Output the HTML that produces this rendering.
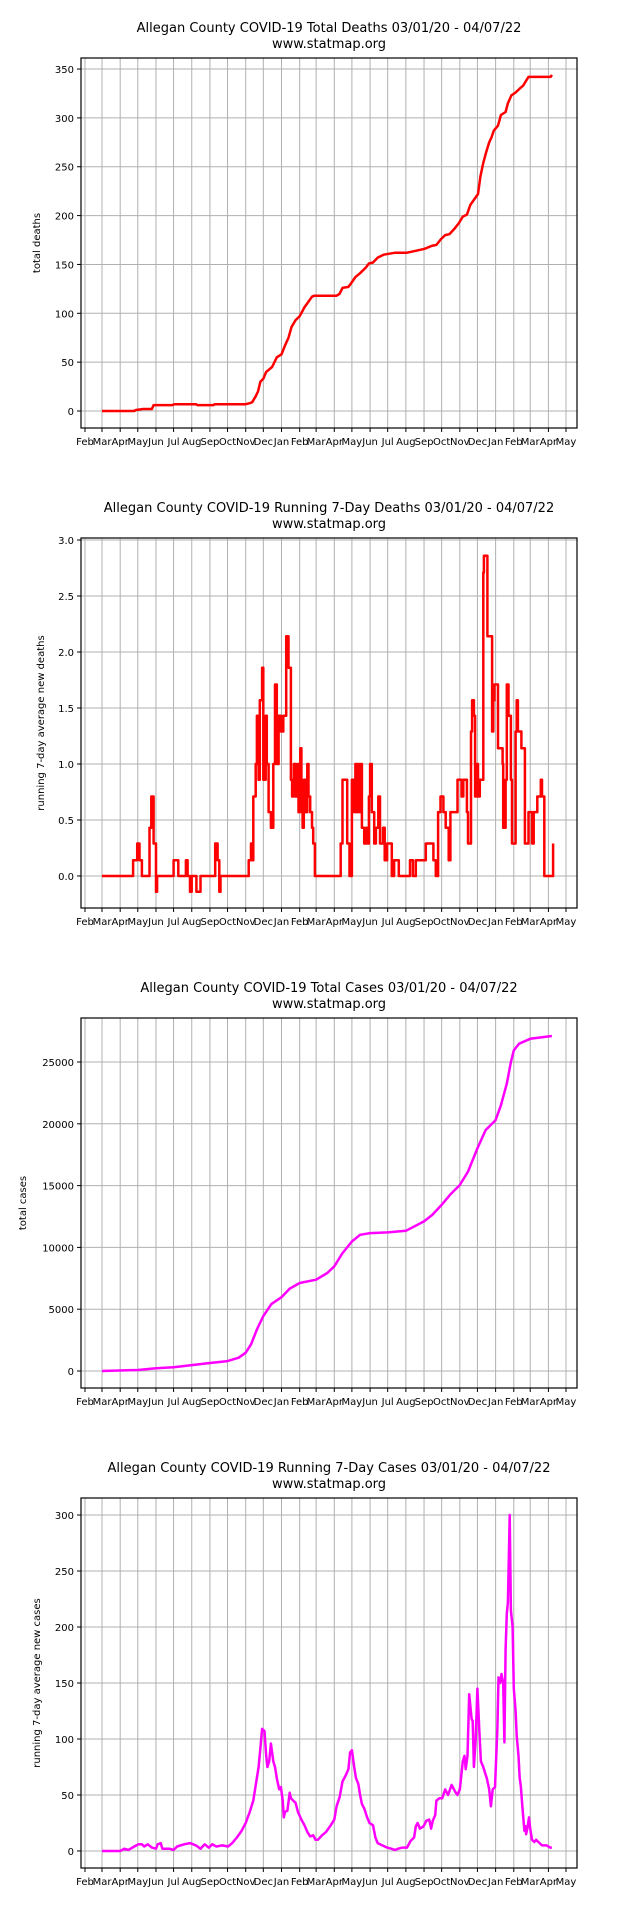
<!DOCTYPE html>
<html><head><meta charset="utf-8">
<style>
html,body{margin:0;padding:0;background:#fff;}
svg{display:block;font-family:"DejaVu Sans","Liberation Sans",sans-serif;}
</style></head>
<body>
<svg id="root" width="640" height="1920" viewBox="0 0 640 1920" xmlns="http://www.w3.org/2000/svg"></svg>
<script>
// ---- data (day offset from 03/01/20, value) ----
const monthLabels = ["Feb","Mar","Apr","May","Jun","Jul","Aug","Sep","Oct","Nov","Dec","Jan","Feb","Mar","Apr","May","Jun","Jul","Aug","Sep","Oct","Nov","Dec","Jan","Feb","Mar","Apr","May"];
const monthDays = [-29,0,31,61,92,122,153,184,214,245,275,306,337,365,396,426,457,487,518,549,579,610,640,671,702,730,761,791];

const deathsTotalDays = [0,55,58,70,85,88,120,123,160,163,190,192,245,252,256,262,266,270,275,280,290,298,306,312,318,323,330,337,345,352,358,362,400,405,410,420,425,432,440,450,455,462,470,480,490,500,520,535,550,562,570,578,585,592,600,608,615,622,628,635,641,645,650,655,660,664,668,675,680,688,692,698,705,712,718,722,727,765,767];
const deathsTotalVals = [0,0,1,2,2,6,6,7,7,6,6,7,7,8,9,15,20,30,33,40,45,55,58,67,75,86,93,97,106,112,117,118,118,120,126,127,131,137,141,147,151,152,157,160,161,162,162,164,166,169,170,176,180,181,186,192,199,201,211,217,222,240,254,265,275,280,287,292,303,306,315,323,326,330,333,337,342,342,344];

const deaths7Days = [0,52,53,60,64,68,79,81,84,88,92,94,120,122,128,130,143,146,150,153,161,168,192,193,197,200,202,247,250,254,256,258,262,264,267,269,273,275,279,281,284,288,292,295,298,301,305,309,314,318,322,324,327,330,333,335,338,340,342,344,347,350,352,355,358,360,363,
405,407,410,415,418,422,426,430,432,434,436,439,441,443,447,450,452,455,457,460,464,467,471,474,479,482,486,490,494,498,503,506,523,525,530,535,552,563,565,569,573,577,582,586,591,594,602,606,610,613,616,619,622,624,626,629,631,634,636,639,641,644,648,650,651,655,657,663,665,667,669,673,675,681,683,684,688,690,693,696,697,699,702,705,707,709,713,715,718,721,724,727,731,733,736,740,742,746,748,750,752,754,767,769];
const deaths7Vals = [0,0,0.14,0.29,0.14,0,0,0.43,0.71,0.29,-0.14,0,0,0.14,0.14,0,0.14,0,-0.14,0,-0.14,0,0,0.29,0.14,-0.14,0,0,0.14,0.29,0.14,0.71,1.0,1.43,0.86,1.57,1.86,0.86,1.43,1.0,0.57,0.43,1.0,1.71,1.0,1.43,1.29,1.43,2.14,1.86,0.86,0.71,1.0,0.71,1.0,0.57,1.14,0.71,0.43,0.86,0.57,1.0,0.71,0.57,0.43,0.29,0,
0,0.29,0.86,0.86,0.29,0,0.86,0.57,1.0,0.57,1.0,0.57,1.0,0.43,0.29,0.43,0.29,0.71,1.0,0.57,0.29,0.43,0.71,0.29,0.43,0.14,0.29,0.29,0,0.14,0.14,0,0,0.14,0,0.14,0.29,0.29,0.14,0,0.57,0.71,0.57,0.43,0.14,0.57,0.57,0.86,0.86,0.71,0.86,0.86,0.57,0.29,0.29,1.29,1.57,1.43,0.71,1.0,0.71,0.86,0.86,2.71,2.86,2.86,2.14,2.14,1.29,1.57,1.71,1.71,1.14,1.14,1.0,0.43,0.86,1.71,1.43,1.43,0.86,0.29,0.29,1.29,1.57,1.29,1.29,1.14,1.14,0.29,0.29,0.57,0.57,0.29,0.57,0.57,0.71,0.71,0.86,0.71,0.71,0,0,0.29];

const casesTotalDays = [0,61,92,122,153,184,214,233,245,254,264,275,289,306,320,337,365,384,396,410,426,440,457,487,518,549,563,579,593,610,624,640,654,671,680,690,697,702,711,730,767];
const casesTotalVals = [0,80,215,300,480,650,800,1080,1480,2150,3360,4440,5430,5970,6670,7120,7390,7930,8470,9540,10480,11020,11160,11210,11340,12100,12630,13440,14250,15050,16130,18010,19490,20300,21500,23250,25000,25940,26480,26880,27100];

const cases7Days = [0,31,38,45,55,62,68,72,78,85,92,95,100,103,115,122,128,140,150,160,168,175,182,188,195,205,215,222,230,238,245,252,258,263,267,270,273,277,280,282,285,288,290,292,295,298,302,305,308,310,312,316,320,322,326,330,334,340,346,350,355,360,364,368,375,382,390,396,400,405,410,416,420,423,426,430,433,437,440,443,447,452,456,462,466,470,478,486,493,500,505,512,520,526,532,535,538,542,548,553,558,561,564,568,570,575,580,585,590,596,602,606,610,613,615,618,620,623,626,630,632,634,637,640,643,646,
650,653,656,660,663,666,670,674,676,679,681,684,686,688,690,692,695,697,700,702,705,707,710,712,714,717,720,722,723,725,728,730,733,737,740,744,750,758,764,767];
const cases7Vals = [0,0,2,1,4,6,6,4,6,3,2,6,7,2,2,1,4,6,7,5,2,6,3,6,4,5,4,7,12,18,25,35,45,62,75,92,109,107,85,75,80,96,88,80,75,65,55,57,45,30,35,36,52,47,45,43,35,28,22,17,13,14,10,10,14,17,23,28,40,48,62,68,73,88,90,75,65,60,50,42,38,30,25,23,12,7,5,3,2,1,2,3,3,9,12,22,25,20,22,27,28,20,27,32,45,47,47,55,50,59,53,50,55,70,80,85,73,85,140,118,116,75,100,145,110,80,
75,70,65,55,40,55,57,110,155,150,158,150,97,180,212,222,300,215,200,145,125,103,85,65,58,37,18,22,15,20,30,20,10,8,10,8,5,5,3,3];

const ticksDeathsTotal = [0,50,100,150,200,250,300,350];
const ticksDeaths7 = [0,0.5,1.0,1.5,2.0,2.5,3.0];
const ticksCasesTotal = [0,5000,10000,15000,20000,25000];
const ticksCases7 = [0,50,100,150,200,250,300];

const NS = "http://www.w3.org/2000/svg";
const root = document.getElementById('root');
const L = 81, R = 577;
function xs(d){ return 102 + d * 0.5866; }
function mk(tag, attrs, parent){
  const e = document.createElementNS(NS, tag);
  for (const k in attrs) e.setAttribute(k, attrs[k]);
  parent.appendChild(e);
  return e;
}

function chart(cfg){
  const g = mk('g', {}, root);
  
  
  const top = cfg.top, bot = cfg.top + 370;
  const ys = v => bot - (v - cfg.ymin) / (cfg.ymax - cfg.ymin) * 370;
  const t1 = mk('text', {x:329, y:top-26, 'text-anchor':'middle', 'font-size':13, fill:'#000'}, g);
  t1.textContent = cfg.title;
  
  
  const t2 = mk('text', {x:329, y:top-10, 'text-anchor':'middle', 'font-size':13, fill:'#000'}, g);
  t2.textContent = 'www.statmap.org';
  
  
  const xg = mk('g', {}, g);
  
  
  monthDays.forEach((d, i) => {
    const x = xs(d);
    mk('line', {x1:x, x2:x, y1:top, y2:bot, stroke:'#b0b0b0', 'stroke-width':1}, xg);
    mk('line', {x1:x, x2:x, y1:bot, y2:bot+4, stroke:'#000', 'stroke-width':1}, xg);
    const tl = mk('text', {x:x, y:bot+17, 'text-anchor':'middle', 'font-size':10, fill:'#000'}, xg);
    tl.textContent = monthLabels[i];
    
    
  });
  const yg = mk('g', {}, g);
  
  
  cfg.ticks.forEach(v => {
    const y = ys(v);
    mk('line', {x1:L, x2:R, y1:y, y2:y, stroke:'#b0b0b0', 'stroke-width':1}, yg);
    mk('line', {x1:L-4, x2:L, y1:y, y2:y, stroke:'#000', 'stroke-width':1}, yg);
    const tl = mk('text', {x:L-7, y:y+4, 'text-anchor':'end', 'font-size':10, fill:'#000'}, yg);
    tl.textContent = cfg.fmt(v);
    
    
  });
  const yl = mk('text', {x:0, y:0, 'text-anchor':'middle', 'font-size':10, fill:'#000',
    transform:`translate(${cfg.ylx},${(top+bot)/2}) rotate(-90)`}, g);
  yl.textContent = cfg.ylabel;
  
  
  const parts = [];
  cfg.days.forEach((d, i) => {
    const x = xs(d).toFixed(1), y = ys(cfg.vals[i]).toFixed(1);
    if (cfg.step && i > 0) parts.push(x + ',' + ys(cfg.vals[i-1]).toFixed(1));
    parts.push(x + ',' + y);
  });
  const pl = mk('polyline', {points:parts.join(' '), fill:'none', stroke:cfg.color, 'stroke-width':2.5, 'stroke-linejoin':'round'}, g);
  
  
  const fr = mk('rect', {x:L, y:top, width:R-L, height:370, fill:'none', stroke:'#000', 'stroke-width':1.2}, g);
  
  
}

chart({name:'total-deaths-chart', top:58, ymin:-17.4, ymax:361.3, ticks:ticksDeathsTotal, fmt:v=>String(v), step:false,
  title:'Allegan County COVID-19 Total Deaths 03/01/20 - 04/07/22', ylabel:'total deaths', ylx:40,
  days:deathsTotalDays, vals:deathsTotalVals, color:'#ff0000'});
chart({name:'running-7day-deaths-chart', top:538, ymin:-0.286, ymax:3.018, ticks:ticksDeaths7, fmt:v=>v.toFixed(1), step:true,
  title:'Allegan County COVID-19 Running 7-Day Deaths 03/01/20 - 04/07/22', ylabel:'running 7-day average new deaths', ylx:44,
  days:deaths7Days, vals:deaths7Vals, color:'#ff0000'});
chart({name:'total-cases-chart', top:1018, ymin:-1375, ymax:28560, ticks:ticksCasesTotal, fmt:v=>String(v), step:false,
  title:'Allegan County COVID-19 Total Cases 03/01/20 - 04/07/22', ylabel:'total cases', ylx:26,
  days:casesTotalDays, vals:casesTotalVals, color:'#ff00ff'});
chart({name:'running-7day-cases-chart', top:1498, ymin:-15.2, ymax:315.2, ticks:ticksCases7, fmt:v=>String(v), step:false,
  title:'Allegan County COVID-19 Running 7-Day Cases 03/01/20 - 04/07/22', ylabel:'running 7-day average new cases', ylx:40,
  days:cases7Days, vals:cases7Vals, color:'#ff00ff'});
</script>
</body></html>
